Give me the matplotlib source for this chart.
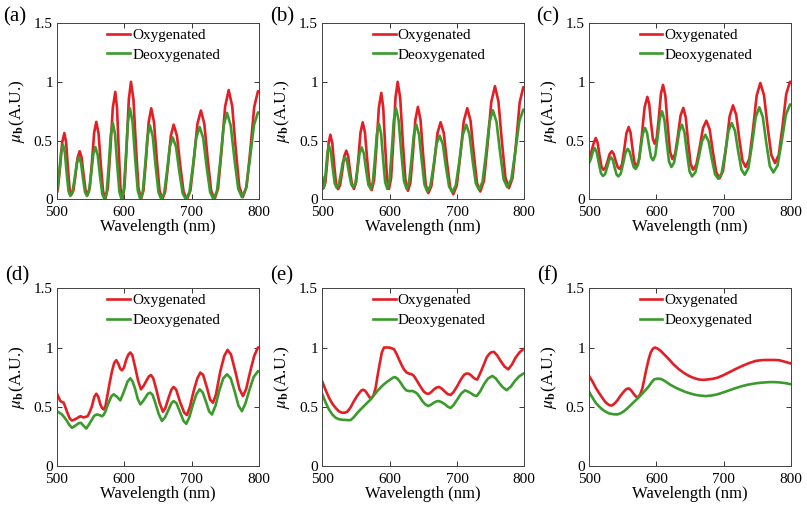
import numpy as np
import matplotlib
matplotlib.use('Agg')
import matplotlib.pyplot as plt

plt.rcParams['font.family'] = ['Liberation Serif', 'DejaVu Serif']
plt.rcParams['mathtext.fontset'] = 'stix'

# ---- data (wavelength in nm, mu_b in A.U.) ----
a_oxy_x = [500, 501.25, 504.5, 507.75, 511,
           513.6, 516.2, 518.7, 521.3, 524.4, 527.5, 530.6, 533.7,
           536.65, 539.6, 542.55, 545.5, 548.7, 551.95, 555.2, 558.4,
           561.75, 565.1, 568.45, 571.8, 575.5, 579.2, 582.9, 586.6,
           589.2, 591.8, 594.4, 597, 600.2, 603.45, 606.7, 609.9,
           613.6, 617.3, 621, 624.7, 628.5, 632.35, 636.2, 640,
           644.1, 648.2, 652.3, 656.4, 660.6, 664.85, 669.1, 673.3,
           678.2, 683.15, 688.1, 693, 698.2, 703.4, 708.6, 713.8,
           718.85, 723.9, 728.95, 734, 739.25, 744.5, 749.75, 755,
           760.25, 765.5, 770.75, 776, 781.6, 787.25, 792.9, 798.5, 800]
a_oxy_y = [0.06, 0.084, 0.27, 0.485, 0.565,
           0.486, 0.276, 0.093, 0.04, 0.077, 0.207, 0.355, 0.41,
           0.355, 0.207, 0.077, 0.04, 0.102, 0.319, 0.567, 0.66,
           0.562, 0.3, 0.07, 0.005, 0.096, 0.415, 0.778, 0.915,
           0.778, 0.412, 0.092, 0.0, 0.1, 0.45, 0.85, 1.0,
           0.85, 0.45, 0.1, 0.0, 0.078, 0.349, 0.659, 0.775,
           0.659, 0.349, 0.078, 0.0, 0.064, 0.286, 0.541, 0.636,
           0.541, 0.286, 0.064, 0.0, 0.076, 0.34, 0.643, 0.756,
           0.643, 0.34, 0.076, 0.0, 0.093, 0.419, 0.79, 0.93,
           0.794, 0.43, 0.111, 0.02, 0.11, 0.425, 0.785, 0.92, 0.918]
a_deoxy_x = [500, 503.25, 506.1, 509,
             511.7, 514.4, 517.1, 519.8, 523, 526.25, 529.5, 532.7,
             535.7, 538.65, 541.6, 544.6, 547.7, 550.8, 553.9, 557,
             560.45, 563.9, 567.35, 570.8, 573.85, 576.9, 579.95, 583,
             586.25, 589.5, 592.75, 596, 599.1, 602.2, 605.3, 608.4,
             612.25, 616.1, 619.95, 623.8, 627.35, 630.9, 634.45, 638,
             642.25, 646.5, 650.75, 655, 659.2, 663.4, 667.6, 671.8,
             676.75, 681.7, 686.65, 691.6, 696.7, 701.75, 706.8, 711.9,
             717.1, 722.3, 727.5, 732.7, 737.65, 742.6, 747.55, 752.5,
             758.05, 763.6, 769.15, 774.7, 780.65, 786.6, 792.55, 798.5, 800]
a_deoxy_y = [0.068, 0.226, 0.4, 0.466,
             0.4, 0.226, 0.074, 0.03, 0.063, 0.179, 0.31, 0.36,
             0.31, 0.179, 0.063, 0.03, 0.072, 0.217, 0.384, 0.446,
             0.379, 0.2, 0.045, 0.0, 0.065, 0.293, 0.553, 0.65,
             0.553, 0.293, 0.065, 0.0, 0.078, 0.349, 0.659, 0.775,
             0.659, 0.349, 0.078, 0.0, 0.063, 0.284, 0.536, 0.63,
             0.536, 0.284, 0.063, 0.0, 0.053, 0.238, 0.449, 0.528,
             0.449, 0.238, 0.053, 0.0, 0.062, 0.277, 0.524, 0.616,
             0.524, 0.277, 0.062, 0.0, 0.074, 0.331, 0.626, 0.736,
             0.629, 0.342, 0.092, 0.02, 0.092, 0.344, 0.632, 0.74, 0.739]

b_oxy_x = [500, 502, 504.5, 507, 509.4, 511.9,
           514.75, 517.6, 520.45, 523.3, 526.4, 529.45, 532.5, 535.6,
           538.45, 541.3, 544.15, 547, 550.25, 553.5, 556.75, 560,
           563.3, 566.65, 570, 573.3, 576.9, 580.45, 584, 587.6,
           590.45, 593.3, 596.15, 599, 602.2, 605.45, 608.7, 611.9,
           615.7, 619.55, 623.4, 627.2, 630.9, 634.6, 638.3, 642,
           645.85, 649.7, 653.55, 657.4, 662, 666.55, 671.1, 675.7,
           680.4, 685.1, 689.8, 694.5, 699.7, 704.9, 710.1, 715.3,
           720.15, 725, 729.75, 734.6, 740.05, 745.5, 750.95, 756.4,
           761.6, 766.8, 772, 777.2, 782.55, 787.85, 793.15, 798.5, 800]
b_oxy_y = [0.19, 0.1, 0.145, 0.3, 0.48, 0.55,
           0.481, 0.296, 0.134, 0.088, 0.121, 0.235, 0.366, 0.415,
           0.366, 0.236, 0.123, 0.09, 0.147, 0.345, 0.571, 0.656,
           0.57, 0.339, 0.138, 0.08, 0.163, 0.452, 0.782, 0.906,
           0.784, 0.457, 0.172, 0.09, 0.181, 0.5, 0.864, 1.0,
           0.861, 0.491, 0.167, 0.074, 0.145, 0.395, 0.68, 0.787,
           0.677, 0.384, 0.127, 0.054, 0.114, 0.325, 0.566, 0.656,
           0.564, 0.32, 0.106, 0.045, 0.118, 0.374, 0.666, 0.776,
           0.67, 0.387, 0.139, 0.068, 0.158, 0.471, 0.829, 0.963,
           0.833, 0.487, 0.184, 0.097, 0.183, 0.483, 0.826, 0.955, 0.953]
b_deoxy_x = [500, 501, 503.2, 505.45, 507.7, 509.9,
             512.75, 515.6, 518.45, 521.3, 524.4, 527.5, 530.6, 533.7,
             536.8, 539.85, 542.9, 546, 549.1, 552.2, 555.3, 558.4,
             561.75, 565.1, 568.45, 571.8, 574.9, 578, 581.1, 584.2,
             587.3, 590.35, 593.4, 596.5, 599.7, 602.95, 606.2, 609.4,
             613.35, 617.3, 621.25, 625.2, 628.8, 632.4, 636, 639.6,
             643.7, 647.75, 651.8, 655.9, 660.5, 665.05, 669.6, 674.2,
             678.9, 683.6, 688.3, 693, 698.2, 703.4, 708.6, 713.8,
             718.5, 723.25, 728, 732.7, 737.9, 743.05, 748.2, 753.4,
             758.7, 764.05, 769.35, 774.7, 780.65, 786.6, 792.55, 798.5, 800]
b_deoxy_y = [0.12, 0.09, 0.127, 0.255, 0.402, 0.457,
             0.403, 0.261, 0.136, 0.1, 0.126, 0.217, 0.321, 0.36,
             0.322, 0.22, 0.131, 0.105, 0.139, 0.257, 0.392, 0.443,
             0.39, 0.249, 0.125, 0.09, 0.145, 0.338, 0.559, 0.642,
             0.559, 0.338, 0.145, 0.09, 0.159, 0.399, 0.673, 0.776,
             0.673, 0.399, 0.159, 0.09, 0.145, 0.336, 0.554, 0.636,
             0.551, 0.324, 0.125, 0.068, 0.116, 0.282, 0.472, 0.543,
             0.471, 0.278, 0.11, 0.062, 0.119, 0.32, 0.55, 0.636,
             0.553, 0.331, 0.137, 0.082, 0.15, 0.386, 0.657, 0.758,
             0.66, 0.399, 0.17, 0.105, 0.171, 0.402, 0.665, 0.764, 0.762]

c_oxy_x = [500, 503.2, 506.5, 509.9,
           512.75, 515.6, 518.45, 521.3, 524.4, 527.5, 530.6, 533.7,
           536.65, 539.6, 542.55, 545.5, 548.85, 552.2, 555.55, 558.9,
           561.75, 564.6, 567.45, 570.3, 574.4, 578.45, 582.5, 586.6,
           589.35, 592.05, 594.8, 597.5, 600.6, 603.7, 606.8, 609.9,
           613.4, 616.85, 620.3, 623.8, 627.85, 631.9, 635.95, 640,
           643.6, 647.2, 650.8, 654.4, 659.35, 664.3, 669.25, 674.2,
           679.15, 684.1, 689.05, 694, 698.95, 703.9, 708.85, 713.8,
           718.55, 723.25, 728, 732.7, 738.15, 743.55, 749, 754.4,
           759.85, 765.3, 770.75, 776.2, 781.8, 787.35, 792.9, 798.5, 800]
c_oxy_y = [0.35, 0.40, 0.47, 0.523,
           0.483, 0.375, 0.28, 0.253, 0.269, 0.324, 0.386, 0.41,
           0.388, 0.328, 0.275, 0.26, 0.296, 0.42, 0.563, 0.616,
           0.566, 0.431, 0.314, 0.28, 0.339, 0.546, 0.783, 0.872,
           0.812, 0.653, 0.514, 0.474, 0.524, 0.699, 0.899, 0.974,
           0.88, 0.628, 0.407, 0.344, 0.387, 0.539, 0.713, 0.778,
           0.699, 0.489, 0.306, 0.253, 0.295, 0.441, 0.607, 0.67,
           0.597, 0.4, 0.229, 0.18, 0.242, 0.459, 0.707, 0.8,
           0.721, 0.512, 0.328, 0.276, 0.347, 0.597, 0.883, 0.99,
           0.888, 0.616, 0.378, 0.31, 0.379, 0.62, 0.897, 1.0, 1.0]
c_deoxy_x = [500, 502.8, 505.6, 508.4,
             511.5, 514.6, 517.7, 520.8, 523.8, 526.75, 529.75, 532.7,
             535.45, 538.15, 540.9, 543.6, 547.05, 550.5, 553.95, 557.4,
             560.4, 563.35, 566.3, 569.3, 572.8, 576.25, 579.7, 583.2,
             586.15, 589.1, 592.05, 595, 598.35, 601.7, 605.05, 608.4,
             611.9, 615.35, 618.8, 622.3, 626.2, 630.15, 634.1, 638,
             641.75, 645.5, 649.25, 653, 657.95, 662.9, 667.85, 672.8,
             677.6, 682.4, 687.2, 692, 696.95, 701.95, 706.9, 711.9,
             716.75, 721.55, 726.35, 731.2, 736.65, 742.05, 747.45, 752.9,
             758.1, 763.3, 768.5, 773.7, 779.9, 786.1, 792.3, 798.5, 800]
c_deoxy_y = [0.31, 0.345, 0.405, 0.437,
             0.401, 0.307, 0.224, 0.2, 0.216, 0.271, 0.334, 0.358,
             0.334, 0.269, 0.212, 0.196, 0.219, 0.301, 0.395, 0.43,
             0.405, 0.337, 0.277, 0.26, 0.295, 0.417, 0.556, 0.608,
             0.567, 0.457, 0.361, 0.333, 0.375, 0.521, 0.687, 0.75,
             0.679, 0.489, 0.323, 0.276, 0.312, 0.438, 0.582, 0.636,
             0.57, 0.394, 0.24, 0.196, 0.231, 0.355, 0.497, 0.55,
             0.494, 0.344, 0.213, 0.176, 0.223, 0.389, 0.579, 0.65,
             0.584, 0.408, 0.254, 0.21, 0.267, 0.468, 0.698, 0.784,
             0.701, 0.479, 0.285, 0.23, 0.288, 0.49, 0.72, 0.807, 0.807]

d_oxy_x = [500, 505, 510, 514.9, 519, 522.3, 525.5, 528.7, 534.7, 539.6, 545.5, 549, 552,
           555.5, 558.4, 561.3, 564.4, 566.8, 569.3, 572, 575.2, 578.5, 581.7, 585, 588.1,
           591.3, 594, 596.5, 599.5, 603, 606, 608.9, 612, 616.3, 620.5, 624.7, 628.5,
           632.7, 636.3, 639.6, 643, 647.5, 652.5, 657.4, 661, 665.8, 670, 673.3, 677,
           683.2, 689, 693, 697.5, 703, 708.5, 712.9, 717, 722.8, 727.5, 731.7, 736,
           742.6, 748.5, 753.4, 758.5, 764.8, 771, 776.2, 781, 787.1, 793, 798.5, 800]
d_oxy_y = [0.61, 0.548, 0.534, 0.458, 0.40, 0.384, 0.39, 0.40, 0.42, 0.41, 0.42, 0.46, 0.506,
           0.585, 0.61, 0.585, 0.52, 0.49, 0.477, 0.505, 0.605, 0.71, 0.80, 0.87, 0.893,
           0.86, 0.82, 0.808, 0.83, 0.90, 0.94, 0.958, 0.935, 0.83, 0.72, 0.647, 0.675,
           0.718, 0.755, 0.768, 0.74, 0.647, 0.53, 0.458, 0.49, 0.576, 0.645, 0.667, 0.645,
           0.534, 0.45, 0.43, 0.5, 0.633, 0.74, 0.788, 0.77, 0.66, 0.56, 0.534, 0.6,
           0.80, 0.93, 0.98, 0.94, 0.80, 0.65, 0.59, 0.65, 0.80, 0.93, 1.0, 1.0]
d_deoxy_x = [500, 503.5, 507.4, 511, 514.9, 518.5, 522.3, 526, 529.7, 532.5, 535.6, 539.5, 543.6,
             547.5, 552, 555.5, 559.4, 563, 566.8, 569, 571.8, 575, 578.2, 581, 584.2,
             589, 594, 597.5, 601.5, 605, 608.9, 612.5, 616.3, 620, 623.8, 627.5, 631.2,
             635, 638.6, 642, 646, 651, 655.9, 660.5, 665.8, 670, 673.3, 677.5, 683.2,
             688, 692, 696.5, 702, 707, 711.9, 716.5, 721.8, 726, 730.2, 735.5, 741.6,
             747, 752.5, 758, 763.8, 769.5, 774.7, 780, 786.1, 792, 798.5, 800]
d_deoxy_y = [0.463, 0.45, 0.435, 0.41, 0.379, 0.345, 0.322, 0.335, 0.35, 0.362, 0.364, 0.34, 0.316,
             0.35, 0.393, 0.425, 0.435, 0.43, 0.42, 0.43, 0.458, 0.51, 0.554, 0.59, 0.605,
             0.585, 0.554, 0.6, 0.66, 0.715, 0.74, 0.71, 0.647, 0.565, 0.52, 0.545, 0.576,
             0.61, 0.619, 0.6, 0.534, 0.44, 0.38, 0.41, 0.477, 0.53, 0.548, 0.53, 0.449,
             0.38, 0.356, 0.41, 0.52, 0.605, 0.647, 0.62, 0.534, 0.46, 0.435, 0.51, 0.647,
             0.74, 0.774, 0.74, 0.633, 0.51, 0.463, 0.53, 0.647, 0.75, 0.80, 0.80]

e_oxy_x = [500, 505, 509.9, 515, 519.8, 524.5, 529.7, 533.5, 537.1, 542, 547, 551.5, 555.4,
           558, 560.4, 563.5, 566.8, 570, 572.8, 576, 579.2, 582, 585.1, 588.5, 591.6,
           595, 599, 602.5, 606.4, 610, 613.9, 617.5, 621.3, 625, 628.7, 632.5, 636.1,
           640, 643.6, 647.5, 651, 654.5, 658.4, 662, 665.8, 669.5, 673.3, 677.5, 682.2,
           686.5, 690.6, 695, 700.5, 705.5, 710.4, 713.5, 716.8, 720, 723.7, 727, 730.2,
           735, 740.1, 744, 747.5, 751, 754.9, 759.5, 764.8, 770.5, 776.2, 781.5, 787.1,
           793, 798.5, 800]
e_oxy_y = [0.712, 0.64, 0.576, 0.525, 0.49, 0.462, 0.449, 0.45, 0.458, 0.495, 0.548, 0.59, 0.619,
           0.638, 0.644, 0.635, 0.61, 0.58, 0.57, 0.595, 0.66, 0.76, 0.859, 0.96, 1.0,
           1.0, 1.0, 0.995, 0.986, 0.95, 0.90, 0.855, 0.816, 0.79, 0.78, 0.775, 0.76,
           0.725, 0.69, 0.655, 0.627, 0.612, 0.61, 0.625, 0.647, 0.662, 0.667, 0.653, 0.627,
           0.606, 0.6, 0.625, 0.675, 0.728, 0.768, 0.78, 0.78, 0.77, 0.75, 0.735, 0.73,
           0.79, 0.859, 0.915, 0.944, 0.96, 0.963, 0.935, 0.887, 0.84, 0.816, 0.855, 0.915,
           0.96, 0.986, 0.99]
e_deoxy_x = [500, 505, 509.9, 514.8, 519.8, 524.5, 529.7, 536, 542, 547, 552, 557, 561.9,
             566.8, 571.8, 576.8, 581.7, 586.6, 591.6, 596.5, 601.5, 604.8, 607.9, 612, 616.3,
             620.5, 624.7, 629, 633.6, 637.5, 641, 645, 648.5, 653, 657.4, 661.5, 665.8,
             669.5, 673.3, 677.5, 682.2, 686.5, 690.6, 695, 700.5, 706, 711.9, 716.5, 721.8,
             725.5, 729.2, 734.5, 740.1, 746, 752.5, 757.5, 762.4, 768, 773.7, 780, 786.1,
             792, 798.5, 800]
e_deoxy_y = [0.605, 0.535, 0.477, 0.435, 0.407, 0.395, 0.39, 0.388, 0.387, 0.413, 0.449, 0.478, 0.506,
             0.534, 0.562, 0.598, 0.633, 0.663, 0.69, 0.712, 0.732, 0.745, 0.751, 0.735, 0.703,
             0.665, 0.638, 0.632, 0.633, 0.625, 0.61, 0.58, 0.548, 0.52, 0.506, 0.518, 0.534,
             0.545, 0.548, 0.538, 0.52, 0.5, 0.49, 0.515, 0.562, 0.61, 0.638, 0.628, 0.61,
             0.596, 0.59, 0.63, 0.69, 0.738, 0.76, 0.74, 0.703, 0.665, 0.64, 0.67, 0.718,
             0.755, 0.78, 0.782]

f_oxy_x = [500, 505, 509.9, 515, 519.8, 523.5, 527.2, 530.5, 533.7, 537.5, 542.1, 547, 552,
           555.5, 559.4, 563, 566.8, 570, 573.3, 576, 579.2, 582, 585.1, 588.5, 591.6,
           594.8, 598, 602, 606.4, 612, 618.8, 626, 633.6, 641, 648.5, 656, 663.4,
           669.5, 675.7, 683, 690.6, 699, 707.9, 717.5, 727.7, 737.5, 747.5, 757.5, 767.3,
           775, 782.2, 791, 800]
f_oxy_y = [0.76, 0.715, 0.661, 0.615, 0.576, 0.545, 0.525, 0.513, 0.51, 0.525, 0.554, 0.595, 0.63,
           0.65, 0.655, 0.635, 0.605, 0.585, 0.58, 0.605, 0.655, 0.73, 0.816, 0.9, 0.958,
           0.99, 1.0, 0.99, 0.972, 0.94, 0.90, 0.855, 0.816, 0.785, 0.76, 0.742, 0.73,
           0.727, 0.73, 0.735, 0.745, 0.765, 0.79, 0.818, 0.845, 0.868, 0.887, 0.894, 0.895,
           0.895, 0.893, 0.88, 0.865]
f_deoxy_x = [500, 505, 509.9, 514.8, 519.8, 524.8, 529.7, 536, 542, 547, 552, 557, 561.9,
             566.8, 571.8, 576.8, 581.7, 585.4, 589.1, 592.8, 596.5, 601, 605, 609.5, 613.9,
             621, 628.7, 636, 643.6, 651, 658.4, 665.8, 673.3, 682, 690.6, 699, 707.9,
             717.5, 727.7, 737.5, 747.5, 757.5, 767.3, 775, 782.2, 791, 800]
f_deoxy_y = [0.627, 0.578, 0.534, 0.503, 0.477, 0.458, 0.444, 0.437, 0.435, 0.445, 0.463, 0.487, 0.514,
             0.541, 0.568, 0.598, 0.627, 0.65, 0.675, 0.705, 0.73, 0.737, 0.737, 0.728, 0.712,
             0.685, 0.661, 0.642, 0.624, 0.611, 0.6, 0.594, 0.59, 0.595, 0.605, 0.62, 0.638,
             0.657, 0.675, 0.688, 0.698, 0.704, 0.708, 0.708, 0.706, 0.7, 0.69]

panel_tags = ['(a)', '(b)', '(c)', '(d)', '(e)', '(f)']
xticks = [500, 600, 700, 800]
yticks = [0, 0.5, 1, 1.5]
yticklabels = ['0', '0.5', '1', '1.5']

panels = [
    (a_oxy_x, a_oxy_y, a_deoxy_x, a_deoxy_y),
    (b_oxy_x, b_oxy_y, b_deoxy_x, b_deoxy_y),
    (c_oxy_x, c_oxy_y, c_deoxy_x, c_deoxy_y),
    (d_oxy_x, d_oxy_y, d_deoxy_x, d_deoxy_y),
    (e_oxy_x, e_oxy_y, e_deoxy_x, e_deoxy_y),
    (f_oxy_x, f_oxy_y, f_deoxy_x, f_deoxy_y),
]

red = '#e31e24'
green = '#3a9a2c'

fig = plt.figure(figsize=(8.07, 5.08), dpi=100)

lefts = [0.0706, 0.3994, 0.7299]
bottoms = [0.6073, 0.0827]
heights = [0.3474, 0.3498]
width = 0.2503
tag_xy = [(3, 7), (270, 7), (536, 7), (5, 266), (270, 266), (537, 266)]

for i, (ox, oy, dx, dy) in enumerate(panels):
    row, col = divmod(i, 3)
    ax = fig.add_axes([lefts[col], bottoms[row], width, heights[row]])
    ax.plot(ox, oy, color=red, lw=1.9, label='Oxygenated', solid_joinstyle='round')
    ax.plot(dx, dy, color=green, lw=1.9, label='Deoxygenated', solid_joinstyle='round')
    ax.set_xlim(500, 800)
    ax.set_ylim(0, 1.5)
    ax.set_xticks(xticks)
    ax.set_yticks(yticks)
    ax.set_yticklabels(yticklabels)
    ax.tick_params(direction='in', length=3.5, width=0.7, top=True, right=True,
                   labelsize=11, color='#333333')
    ax.tick_params(axis='x', pad=5)
    ax.tick_params(axis='y', pad=3)
    for s in ax.spines.values():
        s.set_linewidth(0.7)
        s.set_color('#444444')
    ax.set_xlabel('Wavelength (nm)', fontsize=12, labelpad=0)
    ax.set_ylabel(r'$\mu_{\mathbf{b}}$(A.U.)', fontsize=12.5, labelpad=5)
    ax.legend(loc='upper left', bbox_to_anchor=(0.25, 0.97), frameon=False,
              fontsize=11, handlelength=1.5, handletextpad=0.12,
              labelspacing=0.4, borderpad=0, borderaxespad=0)
    tx, ty = tag_xy[i]
    fig.text(tx / 807, 1 - ty / 508, panel_tags[i], fontsize=15, va='top', ha='left')

fig.savefig('out.png', dpi=100)
